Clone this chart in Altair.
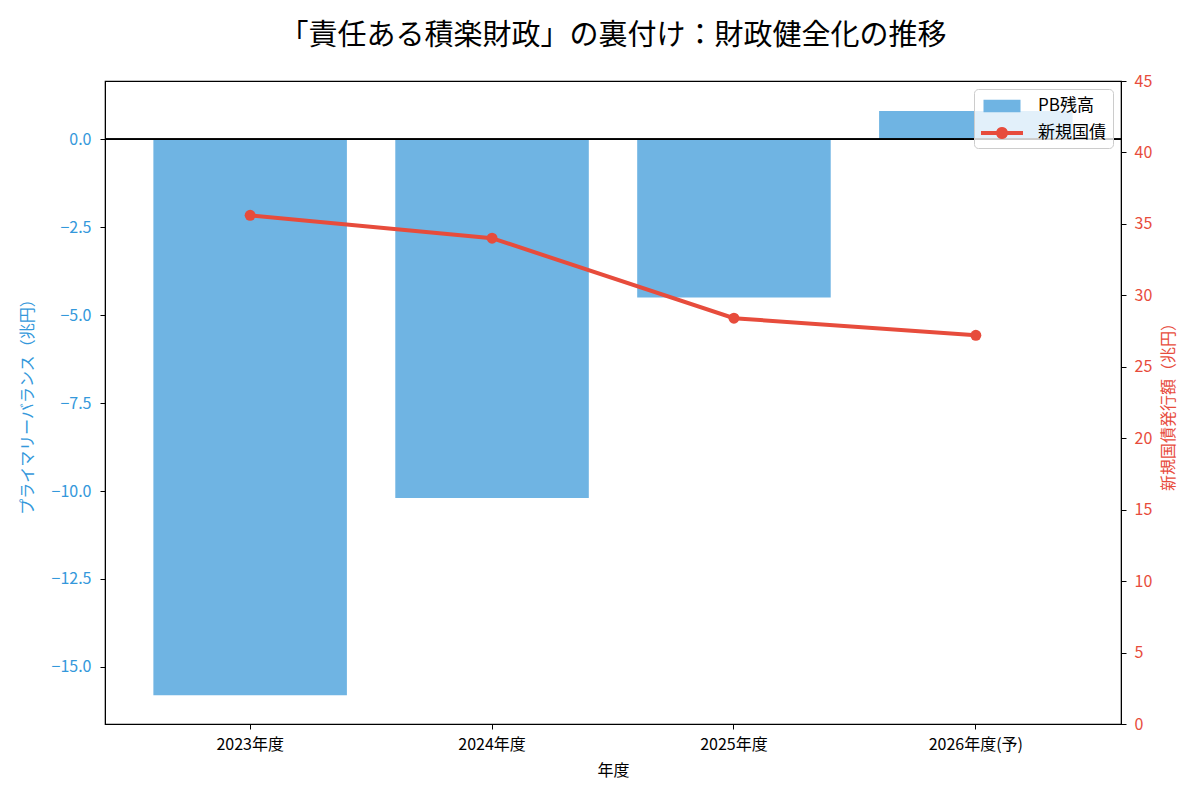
import altair as alt
import pandas as pd

years = ["2023年度", "2024年度", "2025年度", "2026年度(予)"]
pb_balance = [-15.8, -10.2, -4.5, 0.8]
new_bonds = [35.6, 34.0, 28.4, 27.2]
series_names = ["PB残高", "新規国債"]
left_ticks = [-15.0, -12.5, -10.0, -7.5, -5.0, -2.5, 0.0]
right_ticks = [0, 5, 10, 15, 20, 25, 30, 35, 40, 45]

BLUE = "#3498db"
BAR = "#6fb4e3"
RED = "#e74c3c"
FONT = "Noto Sans CJK JP"

df_bar = pd.DataFrame({"year": years, "value": pb_balance, "series": series_names[0]})
df_line = pd.DataFrame({"year": years, "value": new_bonds, "series": series_names[1]})

# legend glyphs (symbolSize 400 -> 10px per path unit)
rect_path = "M-1.85,-0.62 L1.85,-0.62 L1.85,0.62 L-1.85,0.62 Z"
line_path = ("M-2.1,-0.2 L-0.566,-0.2 A0.6,0.6 0 0,1 0.566,-0.2 L2.1,-0.2 L2.1,0.2 "
             "L0.566,0.2 A0.6,0.6 0 0,1 -0.566,0.2 L-2.1,0.2 Z")

color_scale = alt.Scale(domain=series_names, range=[BAR, RED])
shape_scale = alt.Scale(domain=series_names, range=[rect_path, line_path])

legend = alt.Legend(
    title=None, orient="top-right", offset=8,
    fillColor="rgba(255,255,255,0.8)", strokeColor="#cccccc", cornerRadius=4,
    padding=7, labelFontSize=17, labelColor="black", labelFont=FONT,
    symbolSize=400, symbolStrokeWidth=0, symbolOpacity=1, symbolOffset=11,
    rowPadding=9, labelOffset=26,
)

x_enc = alt.X(
    "year:N", sort=years, title="年度",
    scale=alt.Scale(paddingInner=0.2, paddingOuter=0.2),
    axis=alt.Axis(labelAngle=0, labelColor="black", titleColor="black",
                  tickColor="black", domainColor="black", labelPadding=7,
                  titlePadding=10),
)

bars = alt.Chart(df_bar).mark_bar().encode(
    x=x_enc,
    y=alt.Y(
        "value:Q",
        scale=alt.Scale(domain=[-16.62, 1.65], nice=False, zero=False),
        axis=alt.Axis(values=left_ticks, format=".1f", title="プライマリーバランス（兆円）",
                      labelColor=BLUE, titleColor=BLUE, tickColor="black",
                      domainColor="black", orient="left", titlePadding=16,
                      labelPadding=9),
    ),
    color=alt.Color("series:N", scale=color_scale, legend=legend),
)

zero_rule = alt.Chart(df_bar).mark_rule(color="black", strokeWidth=1.2).encode(
    y=alt.datum(0)
)

left = alt.layer(bars, zero_rule)

y_right = alt.Y(
    "value:Q",
    scale=alt.Scale(domain=[0, 45], nice=False),
    axis=alt.Axis(values=right_ticks, format="d", title="新規国債発行額（兆円）",
                  labelColor=RED, titleColor=RED, tickColor="black",
                  domainColor="black", orient="right", titleAngle=270,
                  titleBaseline="top", titlePadding=9, labelPadding=8),
)

line = alt.Chart(df_line).mark_line(strokeWidth=4, color=RED).encode(
    x=alt.X("year:N", sort=years),
    y=y_right,
)

points = alt.Chart(df_line).mark_circle(size=120, opacity=1, color=RED).encode(
    x=alt.X("year:N", sort=years),
    y=y_right,
)

legend_carrier = alt.Chart(df_line).mark_point(filled=True, opacity=0).encode(
    x=alt.X("year:N", sort=years),
    y=y_right,
    color=alt.Color("series:N", scale=color_scale, legend=legend),
    shape=alt.Shape("series:N", scale=shape_scale, legend=legend),
)

right = alt.layer(line, points, legend_carrier)

chart = alt.layer(left, right).resolve_scale(y="independent").properties(
    width=1016, height=643,
    padding={"left": 11, "top": 14, "right": 5, "bottom": 5},
    title=alt.TitleParams("「責任ある積楽財政」の裏付け：財政健全化の推移",
                          fontSize=29, fontWeight="normal", font=FONT,
                          color="black", offset=22, anchor="middle"),
).configure(font=FONT).configure_axis(
    labelFontSize=16, titleFontSize=16, titleFontWeight="normal",
    labelFont=FONT, titleFont=FONT, grid=False, tickSize=5,
).configure_view(stroke="black", strokeWidth=1.2)

chart.save("out.html", embed_options={"renderer": "svg", "actions": False})
